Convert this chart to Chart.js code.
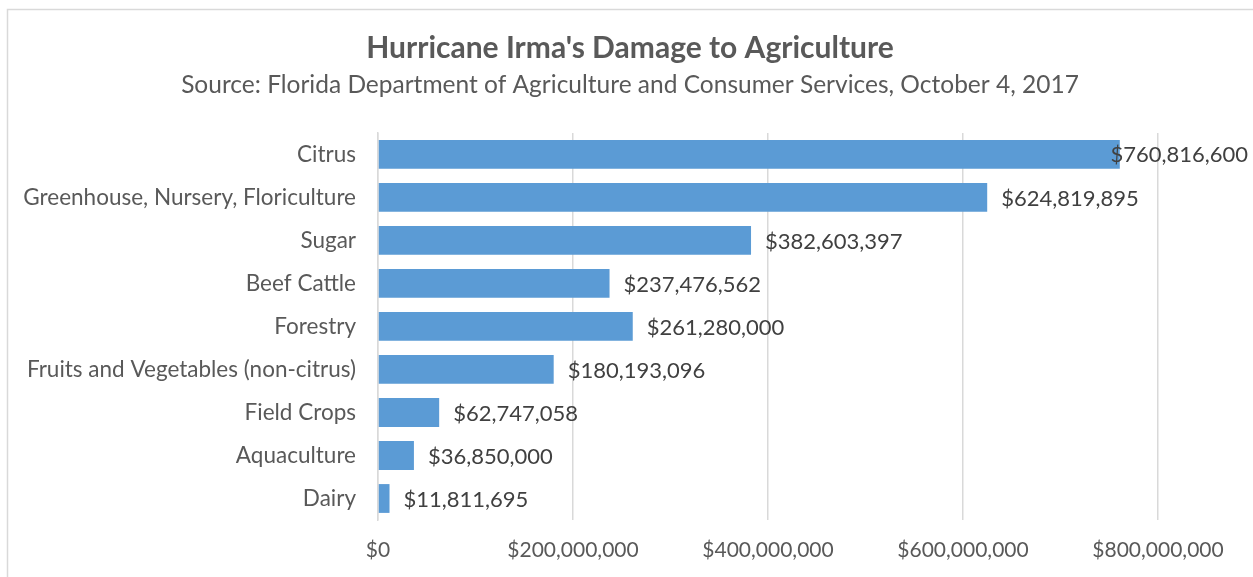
<!DOCTYPE html>
<html>
<head>
<meta charset="utf-8">
<script src="https://cdn.jsdelivr.net/npm/chart.js@4"></script>
<style>
  html, body { margin: 0; padding: 0; background: #fff; overflow: hidden; }
  #chart { display: block; }
</style>
</head>
<body>
<canvas id="chart" width="1253" height="577"></canvas>
<script>
(function(){
const categories = [
    'Citrus',
    'Greenhouse, Nursery, Floriculture',
    'Sugar',
    'Beef Cattle',
    'Forestry',
    'Fruits and Vegetables (non-citrus)',
    'Field Crops',
    'Aquaculture',
    'Dairy'
];
const damageValues = [760816600, 624819895, 382603397, 237476562, 261280000, 180193096, 62747058, 36850000, 11811695];
const xTicks = [0, 200000000, 400000000, 600000000, 800000000];

const fontFamily = 'Lato, "Open Sans", sans-serif';
const textColor = '#595959';
const gridColor = '#d9d9d9';

function money(v) {
    return '$' + Number(v).toLocaleString('en-US');
}

// outline of the chart box, like the spreadsheet chart frame
const framePlugin = {
    id: 'frame',
    beforeDraw(chart) {
        const ctx = chart.ctx;
        ctx.save();
        ctx.fillStyle = '#fff';
        ctx.fillRect(0, 0, chart.width, chart.height);
        ctx.strokeStyle = gridColor;
        ctx.lineWidth = 1.5;
        ctx.strokeRect(7.5, 9.5, chart.width + 20, chart.height + 20);
        ctx.restore();
    }
};

// center title + subtitle on the whole frame, not only the padded box
const titleSpanPlugin = {
    id: 'titleSpan',
    afterLayout(chart) {
        chart.boxes.forEach((box) => {
            if (box.options && 'text' in box.options && box.position === 'top') {
                box.left = 7;
                box.right = chart.width;
            }
        });
    }
};

// value labels at the outside end of every bar
const valueLabelPlugin = {
    id: 'valueLabels',
    afterDatasetsDraw(chart) {
        const ctx = chart.ctx;
        const meta = chart.getDatasetMeta(0);
        ctx.save();
        ctx.font = '22px ' + fontFamily;
        ctx.fillStyle = '#404040';
        ctx.textBaseline = 'middle';
        meta.data.forEach((bar, i) => {
            const text = money(damageValues[i]);
            const w = ctx.measureText(text).width;
            let x = bar.x + 14;
            if (x + w > chart.width - 5) x = chart.width - 5 - w;
            ctx.fillText(text, x, bar.y + 1);
        });
        ctx.restore();
    }
};

new Chart(document.getElementById('chart'), {
    type: 'bar',
    data: {
        labels: categories,
        datasets: [{
            data: damageValues,
            backgroundColor: '#5b9bd5',
            borderWidth: 0,
            barPercentage: 0.67,
            categoryPercentage: 1
        }]
    },
    options: {
        indexAxis: 'y',
        responsive: false,
        animation: false,
        devicePixelRatio: 1,
        layout: {
            padding: { top: 30, right: 95, bottom: 10, left: 10 }
        },
        plugins: {
            legend: { display: false },
            tooltip: { enabled: false },
            title: {
                display: true,
                text: "Hurricane Irma's Damage to Agriculture",
                color: textColor,
                font: { family: fontFamily, size: 30, weight: 'bold' },
                padding: { top: 0, bottom: 4 }
            },
            subtitle: {
                display: true,
                text: 'Source: Florida Department of Agriculture and Consumer Services, October 4, 2017',
                color: textColor,
                font: { family: fontFamily, size: 24.5 },
                padding: { top: 0, bottom: 33.5 }
            }
        },
        scales: {
            x: {
                min: 0,
                max: 800000000,
                afterBuildTicks(scale) {
                    scale.ticks = xTicks.map((v) => ({ value: v }));
                },
                afterFit(scale) {
                    scale.height = 47;
                },
                grid: { color: gridColor, lineWidth: 1.5, drawTicks: false },
                border: { display: false },
                ticks: {
                    color: textColor,
                    font: { family: fontFamily, size: 21 },
                    padding: 18,
                    maxRotation: 0,
                    callback: (v) => money(v)
                }
            },
            y: {
                grid: { display: false, drawTicks: false },
                border: { display: true, color: gridColor, width: 1.5 },
                afterFit(scale) {
                    scale.width = 368;
                },
                ticks: {
                    color: textColor,
                    font: { family: fontFamily, size: 22.5 },
                    padding: 22
                }
            }
        }
    },
    plugins: [framePlugin, titleSpanPlugin, valueLabelPlugin]
});
}());
</script>
</body>
</html>
